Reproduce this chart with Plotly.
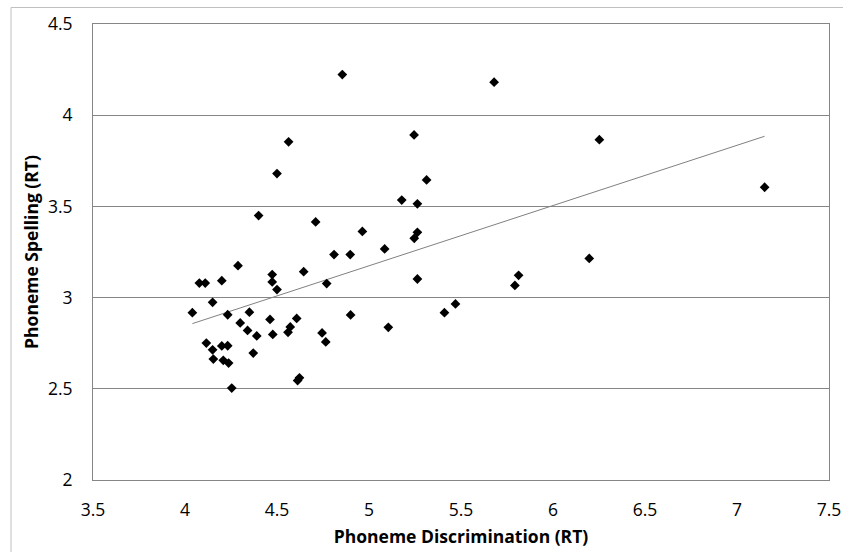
import numpy as np
import plotly.graph_objects as go

discrimination = [4.04, 4.078, 4.11, 4.116, 4.15, 4.15, 4.154, 4.20, 4.20, 4.208,
                  4.232, 4.232, 4.237, 4.254, 4.288, 4.30, 4.34, 4.35, 4.371, 4.39,
                  4.40, 4.462, 4.474, 4.474, 4.477, 4.50, 4.50, 4.563, 4.56, 4.572,
                  4.607, 4.612, 4.622, 4.645, 4.71, 4.745, 4.765, 4.77, 4.81, 4.855,
                  4.898, 4.90, 4.964, 5.085, 5.105, 5.178, 5.245, 5.246, 5.263, 5.263,
                  5.263, 5.313, 5.41, 5.47, 5.68, 5.793, 5.813, 6.197, 6.252, 7.15]
spelling = [2.917, 3.08, 3.08, 2.751, 2.974, 2.714, 2.663, 2.735, 3.093, 2.656,
            2.906, 2.736, 2.641, 2.504, 3.175, 2.861, 2.82, 2.92, 2.696, 2.79,
            3.45, 2.88, 3.126, 3.086, 2.798, 3.044, 3.68, 3.854, 2.81, 2.839,
            2.886, 2.545, 2.56, 3.142, 3.415, 2.806, 2.757, 3.077, 3.236, 4.223,
            3.236, 2.905, 3.363, 3.267, 2.837, 3.535, 3.892, 3.325, 3.514, 3.358,
            3.102, 3.645, 2.917, 2.965, 4.181, 3.067, 3.122, 3.215, 3.866, 3.605]

x_title = "Phoneme Discrimination (RT)"
y_title = "Phoneme Spelling (RT)"

slope, intercept = np.polyfit(discrimination, spelling, 1)
tx = [min(discrimination), max(discrimination)]
ty = [slope * v + intercept for v in tx]

fig = go.Figure()
fig.add_trace(go.Scatter(x=tx, y=ty, mode="lines",
                         line=dict(color="#808080", width=1), hoverinfo="skip"))
fig.add_trace(go.Scatter(x=discrimination, y=spelling, mode="markers",
                         marker=dict(symbol="diamond", size=7.5, color="black")))

font = "Open Sans, sans-serif"
fig.update_layout(
    width=843, height=552,
    margin=dict(l=93, r=14, t=24, b=72),
    paper_bgcolor="white", plot_bgcolor="white",
    showlegend=False,
    font=dict(family=font, color="black", size=17.5),
    xaxis=dict(range=[3.5, 7.5], tickvals=[3.5, 4, 4.5, 5, 5.5, 6, 6.5, 7, 7.5],
               ticktext=["3.5", "4", "4.5", "5", "5.5", "6", "6.5", "7", "7.5"],
               showgrid=False, zeroline=False, showline=True, linecolor="#868686",
               linewidth=1, mirror=True, ticks="outside", ticklen=14,
               tickcolor="rgba(0,0,0,0)", automargin=False,
               title=dict(text="<b>" + x_title + "</b>", font=dict(size=17.5), standoff=10)),
    yaxis=dict(range=[2, 4.5], tickvals=[2, 2.5, 3, 3.5, 4, 4.5],
               ticktext=["2", "2.5", "3", "3.5", "4", "4.5"],
               showgrid=True, gridcolor="#868686", gridwidth=1, zeroline=False,
               showline=True, linecolor="#868686", linewidth=1, mirror=True,
               ticks="outside", ticklen=16, tickcolor="rgba(0,0,0,0)", automargin=False,
               title=dict(text="<b>" + y_title + "</b>", font=dict(size=17.5), standoff=4)),
    shapes=[dict(type="rect", xref="paper", yref="paper",
                 x0=(11 - 93) / 736, x1=(860 - 93) / 736,
                 y0=(480 - 580) / 456, y1=1 + (24.5 - 8) / 456,
                 line=dict(color="#c0c0c0", width=1), layer="below")],
)

fig.write_html("out.html")
